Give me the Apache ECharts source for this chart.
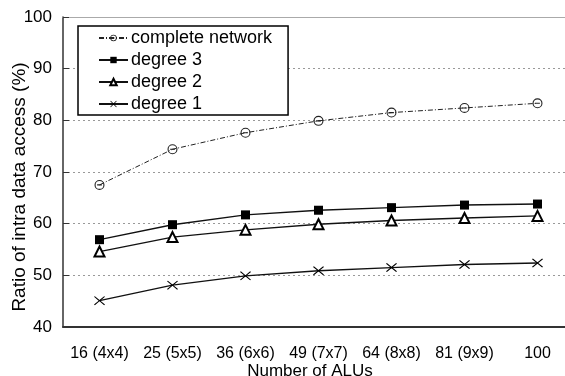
<!DOCTYPE html>
<html>
<head>
<meta charset="utf-8">
<script src="https://cdn.jsdelivr.net/npm/echarts@6/dist/echarts.min.js"></script>
<style>html,body{margin:0;padding:0;background:#fff}#c{width:565px;height:376px}</style>
</head>
<body>
<div id="c"></div>
<script>
const categories = ['16 (4x4)', '25 (5x5)', '36 (6x6)', '49 (7x7)', '64 (8x8)', '81 (9x9)', '100'];
const completeNetwork = [67.5, 74.4, 77.6, 79.9, 81.5, 82.4, 83.3];
const degree3 = [56.9, 59.8, 61.7, 62.6, 63.1, 63.6, 63.8];
const degree2 = [54.6, 57.4, 58.8, 59.9, 60.6, 61.1, 61.5];
const degree1 = [45.1, 48.1, 49.9, 50.9, 51.5, 52.1, 52.4];
const seriesNames = ['complete network', 'degree 3', 'degree 2', 'degree 1'];

const FONT = 'Liberation Sans';
const circleMinus = 'path://M5,0 A5,5 0 1,1 5,10 A5,5 0 1,1 5,0 Z M5,1.1 A3.9,3.9 0 1,0 5,8.9 A3.9,3.9 0 1,0 5,1.1 Z M2.6,4.45 L7.4,4.45 L7.4,5.55 L2.6,5.55 Z';
const crossPath = 'path://M0,0.8 L0.8,0 L5,4.2 L9.2,0 L10,0.8 L5.8,5 L10,9.2 L9.2,10 L5,5.8 L0.8,10 L0,9.2 L4.2,5 Z';

const chart = echarts.init(document.getElementById('c'), null, {renderer: 'canvas'});
chart.setOption({
  animation: false,
  backgroundColor: '#fff',
  textStyle: {fontFamily: FONT, color: '#000'},
  grid: {left: 63, right: -9, top: 17, bottom: 49, containLabel: false, outerBoundsMode: 'none'},
  legend: {
    orient: 'vertical',
    left: 78, top: 26,
    padding: [3, 16, 2, 20],
    itemGap: 4,
    itemWidth: 29, itemHeight: 8,
    borderColor: '#000', borderWidth: 1.5,
    backgroundColor: '#fff',
    textStyle: {fontFamily: FONT, fontSize: 18, color: '#000', lineHeight: 18, padding: [0,0,0,-2]},
    data: seriesNames
  },
  xAxis: [{
    type: 'category',
    data: categories,
    boundaryGap: true,
    name: 'Number of ALUs',
    nameLocation: 'middle',
    nameGap: 36,
    nameMoveOverlap: false,
    nameTextStyle: {fontFamily: FONT, fontSize: 17, color: '#000', padding: [0, 17, 0, 0]},
    axisLine: {lineStyle: {color: '#333', width: 2}},
    axisTick: {inside: true, length: 5, lineStyle: {color: '#444', width: 1}},
    axisLabel: {fontFamily: FONT, fontSize: 16, color: '#000', margin: 19, interval: 0},
    splitLine: {show: false}
  }, {
    type: 'category',
    data: categories,
    position: 'top',
    axisLine: {show: true, lineStyle: {color: '#aaa', width: 1}},
    axisTick: {show: false},
    axisLabel: {show: false}
  }],
  yAxis: {
    type: 'value',
    min: 40, max: 100, interval: 10,
    name: 'Ratio of intra data access (%)',
    nameLocation: 'middle',
    nameRotate: 90,
    nameGap: 34,
    nameMoveOverlap: false,
    nameTextStyle: {fontFamily: FONT, fontSize: 19, color: '#000', padding: [0, 30, 0, 0]},
    axisLine: {show: true, lineStyle: {color: '#333', width: 1.5}},
    axisTick: {show: true, inside: true, length: 6, lineStyle: {color: '#333', width: 1}},
    axisLabel: {fontFamily: FONT, fontSize: 17, color: '#000', margin: 11},
    splitLine: {show: true, lineStyle: {color: '#999', type: [2, 3], width: 1}}
  },
  series: [
    {
      name: seriesNames[0], type: 'line', data: completeNetwork,
      symbol: circleMinus, symbolSize: 10,
      lineStyle: {color: '#222', width: 1, type: [5, 2, 1, 2]},
      itemStyle: {color: '#222'}
    },
    {
      name: seriesNames[1], type: 'line', data: degree3,
      symbol: 'rect', symbolSize: 9,
      lineStyle: {color: '#111', width: 1.4},
      itemStyle: {color: '#000'}
    },
    {
      name: seriesNames[2], type: 'line', data: degree2,
      symbol: 'emptyTriangle', symbolSize: 10,
      lineStyle: {color: '#111', width: 1.4},
      itemStyle: {color: '#000', borderWidth: 1.2}
    },
    {
      name: seriesNames[3], type: 'line', data: degree1,
      symbol: crossPath, symbolSize: [11, 9],
      lineStyle: {color: '#111', width: 1.4},
      itemStyle: {color: '#000'}
    }
  ]
});
</script>
</body>
</html>
